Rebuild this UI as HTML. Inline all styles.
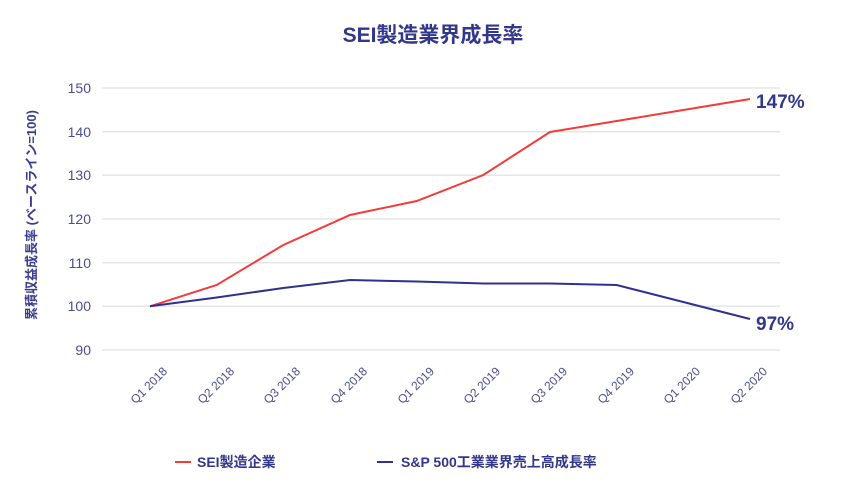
<!DOCTYPE html>
<html><head><meta charset="utf-8"><style>
html,body{margin:0;padding:0;background:#fff;}
svg{display:block;font-family:"Liberation Sans","Noto Sans CJK JP",sans-serif;}
</style></head><body>
<svg width="855" height="495" viewBox="0 0 855 495">
<text x="433" y="42" text-anchor="middle" font-size="21" font-weight="bold" fill="#33378a">SEI製造業界成長率</text>
<g stroke="#e6e6ea" stroke-width="1.5">
<line x1="102" y1="88" x2="780" y2="88"/>
<line x1="102" y1="131.7" x2="780" y2="131.7"/>
<line x1="102" y1="175.3" x2="780" y2="175.3"/>
<line x1="102" y1="219" x2="780" y2="219"/>
<line x1="102" y1="262.7" x2="780" y2="262.7"/>
<line x1="102" y1="306.3" x2="780" y2="306.3"/>
<line x1="102" y1="350" x2="780" y2="350"/>
</g>
<g font-size="14" fill="#4a4d8e" text-anchor="end">
<text x="91" y="93">150</text><text x="91" y="137">140</text><text x="91" y="180">130</text>
<text x="91" y="224">120</text><text x="91" y="268">110</text><text x="91" y="311">100</text><text x="91" y="355">90</text>
</g>
<text transform="translate(36,215) rotate(-90)" text-anchor="middle" font-size="13" font-weight="bold" fill="#3a3d8f">累積収益成長率 (ベースライン=100)</text>
<g font-size="12" fill="#4a4d8e" text-anchor="end">
<text transform="translate(168,372) rotate(-45)">Q1 2018</text>
<text transform="translate(235,372) rotate(-45)">Q2 2018</text>
<text transform="translate(301,372) rotate(-45)">Q3 2018</text>
<text transform="translate(368,372) rotate(-45)">Q4 2018</text>
<text transform="translate(435,372) rotate(-45)">Q1 2019</text>
<text transform="translate(501,372) rotate(-45)">Q2 2019</text>
<text transform="translate(568,372) rotate(-45)">Q3 2019</text>
<text transform="translate(635,372) rotate(-45)">Q4 2019</text>
<text transform="translate(701,372) rotate(-45)">Q1 2020</text>
<text transform="translate(768,372) rotate(-45)">Q2 2020</text>
</g>
<polyline fill="none" stroke="#f23b3b" stroke-width="2" points="150,306.3 216.7,285 283.3,245 350,215 416.7,201 483.3,175 550,132 616.7,121 683.3,110 750,99"/>
<polyline fill="none" stroke="#2f3191" stroke-width="2" points="150,306.3 216.7,297.5 283.3,288 350,280 416.7,281.5 483.3,283.5 550,283.5 616.7,285 683.3,302 750,319"/>
<text x="756" y="108" font-size="19" font-weight="bold" fill="#33378a">147%</text>
<text x="756" y="330" font-size="19" font-weight="bold" fill="#33378a">97%</text>
<line x1="175" y1="462" x2="191" y2="462" stroke="#f23b3b" stroke-width="2"/>
<text x="197" y="467" font-size="14" font-weight="bold" fill="#33378a">SEI製造企業</text>
<line x1="377" y1="462" x2="393" y2="462" stroke="#2f3191" stroke-width="2"/>
<text x="401" y="467" font-size="14" font-weight="bold" fill="#33378a">S&amp;P 500工業業界売上高成長率</text>
</svg>
</body></html>
